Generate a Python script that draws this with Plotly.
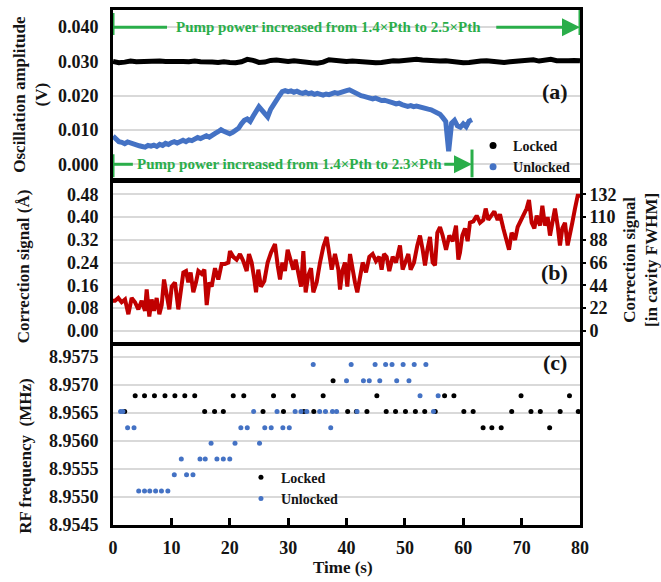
import plotly.graph_objects as go

# ---------------- data ----------------
# (a) oscillation amplitude (V)
t_locked = list(range(0, 81))
amp_locked = [0.0300, 0.0296, 0.0298, 0.0301, 0.0299, 0.0300, 0.0302, 0.0303, 0.0301, 0.0300,
              0.0301, 0.0299, 0.0300, 0.0299, 0.0301, 0.0299, 0.0300, 0.0298, 0.0297, 0.0299,
              0.0297, 0.0296, 0.0299, 0.0306, 0.0303, 0.0297, 0.0298, 0.0303, 0.0304, 0.0301,
              0.0300, 0.0302, 0.0299, 0.0297, 0.0296, 0.0295, 0.0298, 0.0305, 0.0303, 0.0301,
              0.0300, 0.0301, 0.0299, 0.0300, 0.0298, 0.0296, 0.0297, 0.0300, 0.0302, 0.0301,
              0.0303, 0.0304, 0.0306, 0.0304, 0.0302, 0.0300, 0.0301, 0.0302, 0.0300, 0.0297,
              0.0296, 0.0297, 0.0300, 0.0301, 0.0302, 0.0300, 0.0298, 0.0297, 0.0299, 0.0300,
              0.0301, 0.0303, 0.0305, 0.0301, 0.0303, 0.0306, 0.0302, 0.0301, 0.0302, 0.0303,
              0.0302]
t_unlocked = [i * 0.5 for i in range(124)]
amp_unlocked = [0.0082, 0.0072, 0.0066, 0.0064, 0.0060, 0.0065, 0.0062, 0.0057, 0.0055, 0.0054,
                0.0052, 0.0050, 0.0055, 0.0053, 0.0056, 0.0052, 0.0058, 0.0055, 0.0061, 0.0058,
                0.0063, 0.0066, 0.0062, 0.0067, 0.0070, 0.0066, 0.0071, 0.0069, 0.0074, 0.0078,
                0.0075, 0.0080, 0.0083, 0.0079, 0.0086, 0.0090, 0.0095, 0.0101, 0.0096, 0.0092,
                0.0089, 0.0093, 0.0097, 0.0105, 0.0118, 0.0128, 0.0132, 0.0125, 0.0140, 0.0155,
                0.0168, 0.0158, 0.0146, 0.0138, 0.0160, 0.0175, 0.0185, 0.0200, 0.0212, 0.0215,
                0.0212, 0.0214, 0.0210, 0.0213, 0.0209, 0.0207, 0.0210, 0.0206, 0.0208, 0.0204,
                0.0207, 0.0205, 0.0202, 0.0205, 0.0203, 0.0206, 0.0209, 0.0207, 0.0211, 0.0213,
                0.0215, 0.0217, 0.0212, 0.0208, 0.0203, 0.0200, 0.0198, 0.0196, 0.0194, 0.0191,
                0.0193, 0.0189, 0.0186, 0.0187, 0.0183, 0.0181, 0.0179, 0.0176, 0.0178, 0.0174,
                0.0171, 0.0169, 0.0171, 0.0168, 0.0170, 0.0167, 0.0166, 0.0163, 0.0161, 0.0159,
                0.0155, 0.0151, 0.0146, 0.0136, 0.0125, 0.0038, 0.0120, 0.0128, 0.0112, 0.0108,
                0.0118, 0.0110, 0.0126, 0.0130]

# (b) correction signal (Angstrom)
t_corr = [0.00, 0.34, 0.91, 1.48, 2.06, 2.63, 3.20, 3.77, 4.34, 4.91,
          5.48, 5.77, 6.22, 6.62, 7.02, 7.48, 7.94, 8.34, 8.74, 9.19,
          9.65, 10.05, 10.62, 11.19, 11.59, 12.05, 12.51, 12.90, 13.30, 13.76,
          14.22, 14.62, 15.19, 15.65, 16.05, 16.50, 16.90, 17.47, 18.04, 18.61,
          19.18, 19.76, 20.04, 20.61, 21.18, 21.75, 22.32, 22.90, 23.29, 23.75,
          24.21, 24.50, 24.89, 25.35, 25.92, 26.49, 27.07, 27.75, 28.21, 28.61,
          29.01, 29.46, 29.92, 30.32, 30.89, 31.29, 31.75, 32.21, 32.61, 33.00,
          33.46, 33.92, 34.32, 34.89, 35.46, 36.03, 36.60, 37.00, 37.46, 38.03,
          38.60, 38.89, 39.29, 39.74, 40.14, 40.60, 41.06, 41.45, 41.85, 42.31,
          42.77, 43.34, 43.91, 44.48, 45.05, 45.62, 46.02, 46.42, 46.88, 47.33,
          47.91, 48.48, 49.16, 49.62, 50.19, 50.59, 50.99, 51.56, 52.13, 52.59,
          53.05, 53.45, 53.85, 54.30, 54.76, 55.16, 55.56, 56.02, 56.47, 57.05,
          57.62, 58.19, 58.76, 59.16, 59.44, 59.84, 60.30, 60.75, 61.15, 61.73,
          62.30, 62.87, 63.44, 63.84, 64.29, 64.87, 65.32, 65.89, 66.29, 66.87,
          67.44, 67.84, 68.29, 68.87, 69.32, 69.89, 70.29, 70.86, 71.26, 71.72,
          72.18, 72.58, 73.15, 73.55, 74.00, 74.46, 74.86, 75.26, 75.71, 76.17,
          76.57, 76.97, 77.43, 77.88, 78.28, 78.68, 79.14, 79.60, 80.00]
corr = [0.105, 0.105, 0.115, 0.100, 0.110, 0.058, 0.115, 0.100, 0.075, 0.105,
        0.070, 0.145, 0.050, 0.110, 0.070, 0.115, 0.058, 0.090, 0.180, 0.120,
        0.075, 0.155, 0.170, 0.075, 0.145, 0.205, 0.210, 0.170, 0.205, 0.135,
        0.170, 0.210, 0.200, 0.215, 0.090, 0.170, 0.155, 0.220, 0.180, 0.235,
        0.235, 0.240, 0.280, 0.260, 0.250, 0.270, 0.245, 0.210, 0.270, 0.240,
        0.180, 0.135, 0.215, 0.155, 0.175, 0.240, 0.275, 0.305, 0.230, 0.180,
        0.240, 0.210, 0.285, 0.260, 0.215, 0.250, 0.195, 0.155, 0.280, 0.135,
        0.195, 0.220, 0.135, 0.170, 0.240, 0.295, 0.330, 0.275, 0.215, 0.270,
        0.215, 0.145, 0.210, 0.240, 0.155, 0.270, 0.205, 0.170, 0.135, 0.195,
        0.240, 0.205, 0.260, 0.270, 0.245, 0.260, 0.215, 0.270, 0.260, 0.210,
        0.260, 0.240, 0.300, 0.215, 0.245, 0.270, 0.215, 0.240, 0.300, 0.335,
        0.285, 0.230, 0.285, 0.330, 0.240, 0.230, 0.345, 0.365, 0.335, 0.285,
        0.335, 0.315, 0.370, 0.250, 0.275, 0.335, 0.360, 0.315, 0.380, 0.385,
        0.405, 0.380, 0.390, 0.430, 0.390, 0.410, 0.420, 0.390, 0.410, 0.360,
        0.315, 0.285, 0.345, 0.320, 0.365, 0.390, 0.405, 0.430, 0.460, 0.380,
        0.360, 0.405, 0.370, 0.440, 0.370, 0.400, 0.335, 0.380, 0.430, 0.370,
        0.300, 0.360, 0.380, 0.300, 0.335, 0.380, 0.430, 0.475, 0.475]
fwhm_per_angstrom = 275.0  # right-axis scale: 0.48 A <-> 132 FWHM

# (c) RF frequency (MHz)
t_rf_locked = [2.0, 3.8, 5.4, 7.1, 8.9, 10.6, 12.3, 14.0, 15.7, 17.4, 18.9, 20.6, 22.4, 25.7, 27.5,
               29.2, 30.9, 32.7, 34.4, 36.0, 37.7, 40.2, 41.7, 43.5, 45.2, 46.8, 48.4, 50.1, 51.8,
               53.4, 55.2, 56.8, 58.4, 60.1, 61.7, 63.4, 64.9, 66.5, 68.3, 69.9, 71.6, 73.2, 74.8,
               76.6, 78.2, 79.7]
rf_locked = [8.95653, 8.95681, 8.95681, 8.95681, 8.95681, 8.95681, 8.95681, 8.95681, 8.95653, 8.95653,
             8.95653, 8.95681, 8.95681, 8.95653, 8.95681, 8.95653, 8.95681, 8.95653, 8.95653, 8.95681,
             8.95708, 8.95653, 8.95653, 8.95653, 8.95681, 8.95653, 8.95653, 8.95653, 8.95653, 8.95653,
             8.95653, 8.95681, 8.95681, 8.95653, 8.95653, 8.95624, 8.95624, 8.95624, 8.95653, 8.95681,
             8.95653, 8.95653, 8.95624, 8.95653, 8.95681, 8.95653]
t_rf_unlocked = [1.3, 1.7, 2.5, 3.6, 4.4, 5.4, 6.3, 7.3, 8.3, 9.4, 10.5, 11.7, 12.6, 13.7, 14.9, 15.8,
                 16.8, 17.8, 18.9, 20.0, 20.9, 21.9, 23.0, 24.1, 25.1, 26.0, 27.1, 28.1, 29.1, 30.2,
                 31.2, 32.2, 33.2, 34.3, 35.4, 36.4, 37.3, 37.6, 38.3, 40.0, 40.8, 41.8, 42.9, 43.9,
                 44.9, 45.7, 46.7, 47.8, 48.6, 49.7, 50.7, 51.6, 52.6, 53.6, 54.9, 55.7]
rf_unlocked = [8.95653, 8.95653, 8.95624, 8.95624, 8.95511, 8.95511, 8.95511, 8.95511, 8.95511, 8.95511,
               8.95540, 8.95568, 8.95540, 8.95540, 8.95568, 8.95568, 8.95596, 8.95568, 8.95568, 8.95568,
               8.95596, 8.95624, 8.95624, 8.95653, 8.95596, 8.95624, 8.95624, 8.95653, 8.95624, 8.95624,
               8.95653, 8.95653, 8.95653, 8.95737, 8.95653, 8.95653, 8.95624, 8.95653, 8.95653, 8.95708,
               8.95737, 8.95653, 8.95708, 8.95708, 8.95737, 8.95708, 8.95737, 8.95737, 8.95708, 8.95737,
               8.95708, 8.95737, 8.95681, 8.95737, 8.95653, 8.95681]

x_ticks = [0, 10, 20, 30, 40, 50, 60, 70, 80]
amp_ticks = [0.000, 0.010, 0.020, 0.030, 0.040]
corr_ticks = [0.00, 0.08, 0.16, 0.24, 0.32, 0.40, 0.48]
fwhm_ticks = [0, 22, 44, 66, 88, 110, 132]
rf_ticks = [8.9545, 8.9550, 8.9555, 8.9560, 8.9565, 8.9570, 8.9575]

# ---------------- style ----------------
FONT = "Liberation Serif"
TXT = "#141414"
BLACK = "#000000"
BLUE = "#4472c4"
RED = "#c00000"
GREEN = "#2aae4a"
GRID = "#d9d9d9"
tickfont = dict(family=FONT, size=18, color=TXT, weight="bold")

fig = go.Figure()

# panel (a)
fig.add_trace(go.Scatter(x=t_locked, y=amp_locked, mode="lines", line=dict(color=BLACK, width=5),
                         xaxis="x", yaxis="y", showlegend=False, name="Locked"))
fig.add_trace(go.Scatter(x=t_unlocked, y=amp_unlocked, mode="lines", line=dict(color=BLUE, width=5),
                         xaxis="x", yaxis="y", showlegend=False, name="Unlocked"))
fig.add_trace(go.Scatter(x=[None], y=[None], mode="markers", marker=dict(color=BLACK, size=7),
                         xaxis="x", yaxis="y", name="Locked", legend="legend"))
fig.add_trace(go.Scatter(x=[None], y=[None], mode="markers", marker=dict(color=BLUE, size=7),
                         xaxis="x", yaxis="y", name="Unlocked", legend="legend"))

# panel (b)
fig.add_trace(go.Scatter(x=t_corr, y=corr, mode="lines", line=dict(color=RED, width=4),
                         xaxis="x2", yaxis="y2", showlegend=False))
fig.add_trace(go.Scatter(x=t_corr, y=[v * fwhm_per_angstrom for v in corr], mode="lines",
                         line=dict(color=RED, width=0), opacity=0, hoverinfo="skip",
                         xaxis="x2", yaxis="y4", showlegend=False))

# panel (c)
fig.add_trace(go.Scatter(x=t_rf_locked, y=rf_locked, mode="markers", marker=dict(color=BLACK, size=5),
                         xaxis="x3", yaxis="y3", name="Locked", legend="legend2"))
fig.add_trace(go.Scatter(x=t_rf_unlocked, y=rf_unlocked, mode="markers", marker=dict(color=BLUE, size=5),
                         xaxis="x3", yaxis="y3", name="Unlocked", legend="legend2"))

# domains (paper fractions)
dom_a = [0.6738, 1.0]
dom_b = [0.3553, 0.6641]
dom_c = [0.0, 0.3476]

xbase = dict(range=[0, 80], showline=True, linewidth=3, linecolor=BLACK, mirror=True,
             showgrid=False, zeroline=False, automargin=False)
ybase = dict(showline=True, linewidth=3, linecolor=BLACK, mirror=True, showgrid=True,
             gridcolor=GRID, gridwidth=1.5, zeroline=False, ticks="", tickfont=tickfont,
             ticklabelstandoff=8, automargin=False)
legfont = dict(family=FONT, size=14, color=TXT, weight="bold")

fig.update_layout(
    width=661, height=582,
    margin=dict(l=113, r=81, t=10, b=57),
    paper_bgcolor="white", plot_bgcolor="white",
    font=dict(family=FONT, color=TXT),
    xaxis=dict(xbase, anchor="y", showticklabels=False, ticks=""),
    xaxis2=dict(xbase, anchor="y2", matches="x", showticklabels=False, ticks=""),
    xaxis3=dict(xbase, anchor="y3", matches="x", tickvals=x_ticks, ticks="inside", ticklen=7,
                tickwidth=2.5, tickcolor=BLACK, tickfont=tickfont, ticklabelstandoff=4),
    yaxis=dict(ybase, domain=dom_a, anchor="x", range=[-0.004, 0.045], tickvals=amp_ticks,
               tickformat=".3f"),
    yaxis2=dict(ybase, domain=dom_b, anchor="x2", range=[-0.04, 0.52], tickvals=corr_ticks,
                tickformat=".2f"),
    yaxis4=dict(domain=dom_b, anchor="x2", overlaying="y2", side="right",
                range=[-0.04 * fwhm_per_angstrom, 0.52 * fwhm_per_angstrom], tickvals=fwhm_ticks,
                showgrid=False, zeroline=False, showline=False, ticks="outside", ticklen=5,
                tickwidth=2, tickcolor=BLACK, tickfont=tickfont, automargin=False),
    yaxis3=dict(ybase, domain=dom_c, anchor="x3", range=[8.9545, 8.9577], tickvals=rf_ticks,
                tickformat=".4f"),
    legend=dict(x=0.771, y=0.767, xanchor="left", yanchor="top", bgcolor="rgba(0,0,0,0)",
                font=legfont, tracegroupgap=0, itemwidth=30),
    legend2=dict(x=0.274, y=0.123, xanchor="left", yanchor="top", bgcolor="rgba(0,0,0,0)",
                 font=legfont, tracegroupgap=0, itemwidth=30),
)

# axis titles and panel labels
title_font = dict(family=FONT, size=17, color=TXT, weight="bold")
ann = [
    dict(text="Oscillation amplitude<br>(V)", x=-0.176, y=0.837, textangle=-90),
    dict(text="Correction signal (Å)", x=-0.19, y=0.503, textangle=-90),
    dict(text="RF frequency\u00a0\u00a0(MHz)", x=-0.187, y=0.134, textangle=-90),
    dict(text="Correction signal<br>[in cavity FWHM]", x=1.131, y=0.515, textangle=-90),
    dict(text="Time (s)", x=0.4925, y=-0.0816, textangle=0),
]
for a in ann:
    fig.add_annotation(xref="paper", yref="paper", showarrow=False, xanchor="center",
                       yanchor="middle", font=title_font, **a)
for lab, yy in [("(a)", 0.841), ("(b)", 0.491), ("(c)", 0.3146)]:
    fig.add_annotation(text=lab, xref="paper", yref="paper", x=0.946, y=yy, showarrow=False,
                       xanchor="center", yanchor="middle",
                       font=dict(family=FONT, size=22, color=TXT, weight="bold"))

# pump power markers in (a)
pump_start = t_locked[0]
pump_end_locked = t_locked[-1]
pump_end_unlocked = t_unlocked[-1]
green_font = dict(family=FONT, size=15, color=GREEN, weight="bold")
fig.add_annotation(text="Pump power increased from 1.4×Pth to 2.5×Pth", xref="x", yref="y",
                   x=37.0, y=0.040, showarrow=False, font=green_font)
fig.add_annotation(text="Pump power increased from 1.4×Pth to 2.3×Pth", xref="x", yref="y",
                   x=30.2, y=0.000, showarrow=False, font=green_font)
for head, tail, yy in [(pump_end_locked, 65.4, 0.040), (pump_end_unlocked, 56.5, 0.000)]:
    fig.add_annotation(text="", xref="x", yref="y", axref="x", ayref="y", x=head, y=yy,
                       ax=tail, ay=yy, showarrow=True, arrowhead=2, arrowsize=1.2,
                       arrowwidth=3, arrowcolor=GREEN, standoff=0, startstandoff=0)
gl = dict(color=GREEN, width=3)
shapes = [
    dict(x0=pump_start, x1=9.25, y0=0.040, y1=0.040),
    dict(x0=pump_start, x1=pump_start, y0=0.0377, y1=0.0441),
    dict(x0=pump_end_locked, x1=pump_end_locked, y0=0.0377, y1=0.045),
    dict(x0=pump_start, x1=3.4, y0=0.0, y1=0.0),
    dict(x0=pump_start, x1=pump_start, y0=-0.0038, y1=0.0029),
    dict(x0=pump_end_unlocked, x1=pump_end_unlocked, y0=-0.0038, y1=0.0043),
]
for s in shapes:
    fig.add_shape(type="line", xref="x", yref="y", line=gl, layer="above", **s)

fig.write_html("out.html")
